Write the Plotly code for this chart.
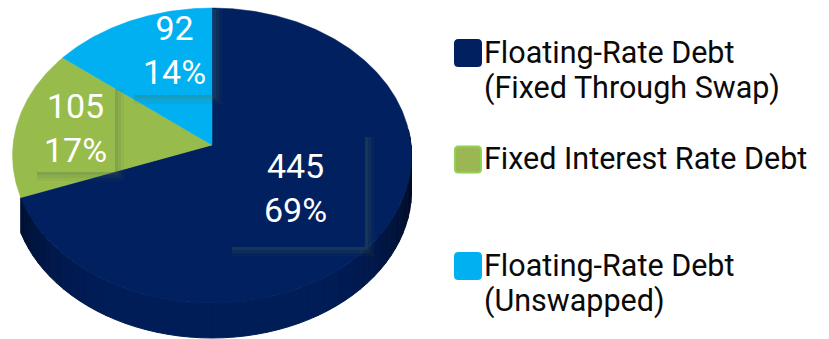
import numpy as np
import plotly.graph_objects as go

# Debt composition
categories = [
    "Floating-Rate Debt (Fixed Through Swap)",
    "Fixed Interest Rate Debt",
    "Floating-Rate Debt (Unswapped)",
]
values = [445, 105, 92]

# Styling
slice_colors = ["#002060", "#97BC4C", "#00B0F0"]
legend_fill = ["#002060", "#9BB653", "#00B0F0"]
legend_edge = ["#002060", "#92D050", "#00B0F0"]
FONT = "Roboto"
W, H = 829, 339

# Tilted-disc projection (screen units on the pixel-aligned axes)
CX, CY = 212.0, 145.0      # projected centre of the top face
A, B = 199.0, 146.75       # horizontal / vertical radii
K = 0.0712                 # perspective strength
DEPTH = 35.0               # thickness of the disc


def project(theta_deg, r=1.0, dz=0.0):
    th = np.radians(theta_deg)
    u = r * np.sin(th)
    v = r * np.cos(th)
    w = 1.0 + K * v
    return CX + A * u / w, CY - B * v / w + dz


def percents(vals):
    # largest-remainder rounding so the shares add up to 100
    raw = np.array(vals, dtype=float) / sum(vals) * 100
    base = np.floor(raw).astype(int)
    rem = raw - base
    for i in np.argsort(-rem)[: 100 - base.sum()]:
        base[i] += 1
    return base


total = float(sum(values))
spans = [360.0 * v / total for v in values]
starts = np.concatenate([[0.0], np.cumsum(spans)[:-1]])
pcts = percents(values)


def hex_rgb(h):
    h = h.lstrip("#")
    return [int(h[i:i + 2], 16) for i in (0, 2, 4)]


fig = go.Figure()

# Side wall under the front slice, shaded darker towards the silhouette
wall_end = starts[0] + spans[0]
edges = np.append(np.arange(84.0, wall_end, 3.0), wall_end)
for a, b in zip(edges[:-1], edges[1:]):
    mid = 0.5 * (a + b)
    f = 0.92 - 0.55 * abs(np.sin(np.radians(mid))) ** 5
    r, g, bl = [int(c * f) for c in hex_rgb(slice_colors[0])]
    col = f"rgb({r},{g},{bl})"
    th = np.linspace(a, b, 6)
    xt, yt = project(th)
    xb, yb = project(th[::-1], dz=DEPTH)
    fig.add_trace(go.Scatter(
        x=np.concatenate([xt, xb, xt[:1]]),
        y=np.concatenate([yt, yb, yt[:1]]),
        mode="lines", fill="toself", fillcolor=col,
        line=dict(color=col, width=1),
        hoverinfo="skip", showlegend=False,
    ))

# Top face slices
for i, (s, sp) in enumerate(zip(starts, spans)):
    th = np.linspace(s, s + sp, max(int(sp * 2), 8))
    xa, ya = project(th)
    cx0, cy0 = project(0.0, r=0.0)
    fig.add_trace(go.Scatter(
        x=np.concatenate([[cx0], xa, [cx0]]),
        y=np.concatenate([[cy0], ya, [cy0]]),
        mode="lines", fill="toself", fillcolor=slice_colors[i],
        line=dict(color=slice_colors[i], width=0.5),
        name=categories[i], hoverinfo="name", showlegend=False,
    ))

annotations = []
shapes = []

# Data labels: value and share, each on a box with a soft drop shadow
label_pos = [(295, 188), (75, 128), (174, 50)]
label_box = [(228, 133, 365, 247), (33, 85, 115, 172), (130, 5, 213, 95)]
for i, (lx, ly) in enumerate(label_pos):
    x0, y0, x1, y1 = label_box[i]
    for off, op in ((0, 0.30), (3, 0.18), (6, 0.08)):
        shapes.append(dict(type="rect", xref="x", yref="y",
                           x0=x1 + off, x1=x1 + off + 3, y0=y0 + 4, y1=y1 + off + 3,
                           fillcolor=f"rgba(80,105,70,{op})", line=dict(width=0),
                           layer="above"))
        shapes.append(dict(type="rect", xref="x", yref="y",
                           x0=x0 + 4, x1=x1 + off, y0=y1 + off, y1=y1 + off + 3,
                           fillcolor=f"rgba(80,105,70,{op})", line=dict(width=0),
                           layer="above"))
    annotations.append(dict(
        x=lx, y=ly, xref="x", yref="y", showarrow=False,
        text=f"{values[i]}<br>{pcts[i]}%",
        font=dict(family=FONT, size=34, color="white"),
        xanchor="center", yanchor="middle", align="center",
    ))

# Legend: rounded swatches with wrapped category names
sw_x0, sw_size, rad = 455.0, 26.0, 3.5
text_x = 482
legend_rows = [53, 159.5, 266]
line_gap = 36
for i, cy in enumerate(legend_rows):
    x0, x1 = sw_x0, sw_x0 + sw_size
    y0, y1 = cy - sw_size / 2, cy + sw_size / 2
    path = (f"M{x0 + rad},{y0} L{x1 - rad},{y0} Q{x1},{y0} {x1},{y0 + rad} "
            f"L{x1},{y1 - rad} Q{x1},{y1} {x1 - rad},{y1} L{x0 + rad},{y1} "
            f"Q{x0},{y1} {x0},{y1 - rad} L{x0},{y0 + rad} Q{x0},{y0} {x0 + rad},{y0} Z")
    shapes.append(dict(type="path", path=path, xref="x", yref="y",
                       fillcolor=legend_fill[i],
                       line=dict(color=legend_edge[i], width=2), layer="above"))
    name = categories[i]
    lines = [name] if " (" not in name else [name.split(" (")[0], "(" + name.split(" (")[1]]
    for j, ln in enumerate(lines):
        annotations.append(dict(
            x=text_x, y=cy - 1 + j * line_gap, xref="x", yref="y", showarrow=False,
            text=ln, font=dict(family=FONT, size=30.5, color="#0a0a0a"),
            xanchor="left", yanchor="middle", align="left",
        ))

fig.update_layout(
    width=W, height=H,
    margin=dict(l=0, r=0, t=0, b=0),
    paper_bgcolor="white", plot_bgcolor="white",
    xaxis=dict(range=[0, W], visible=False, fixedrange=True),
    yaxis=dict(range=[H, 0], visible=False, fixedrange=True),
    annotations=annotations, shapes=shapes,
    showlegend=False,
)

fig.write_html("out.html")
